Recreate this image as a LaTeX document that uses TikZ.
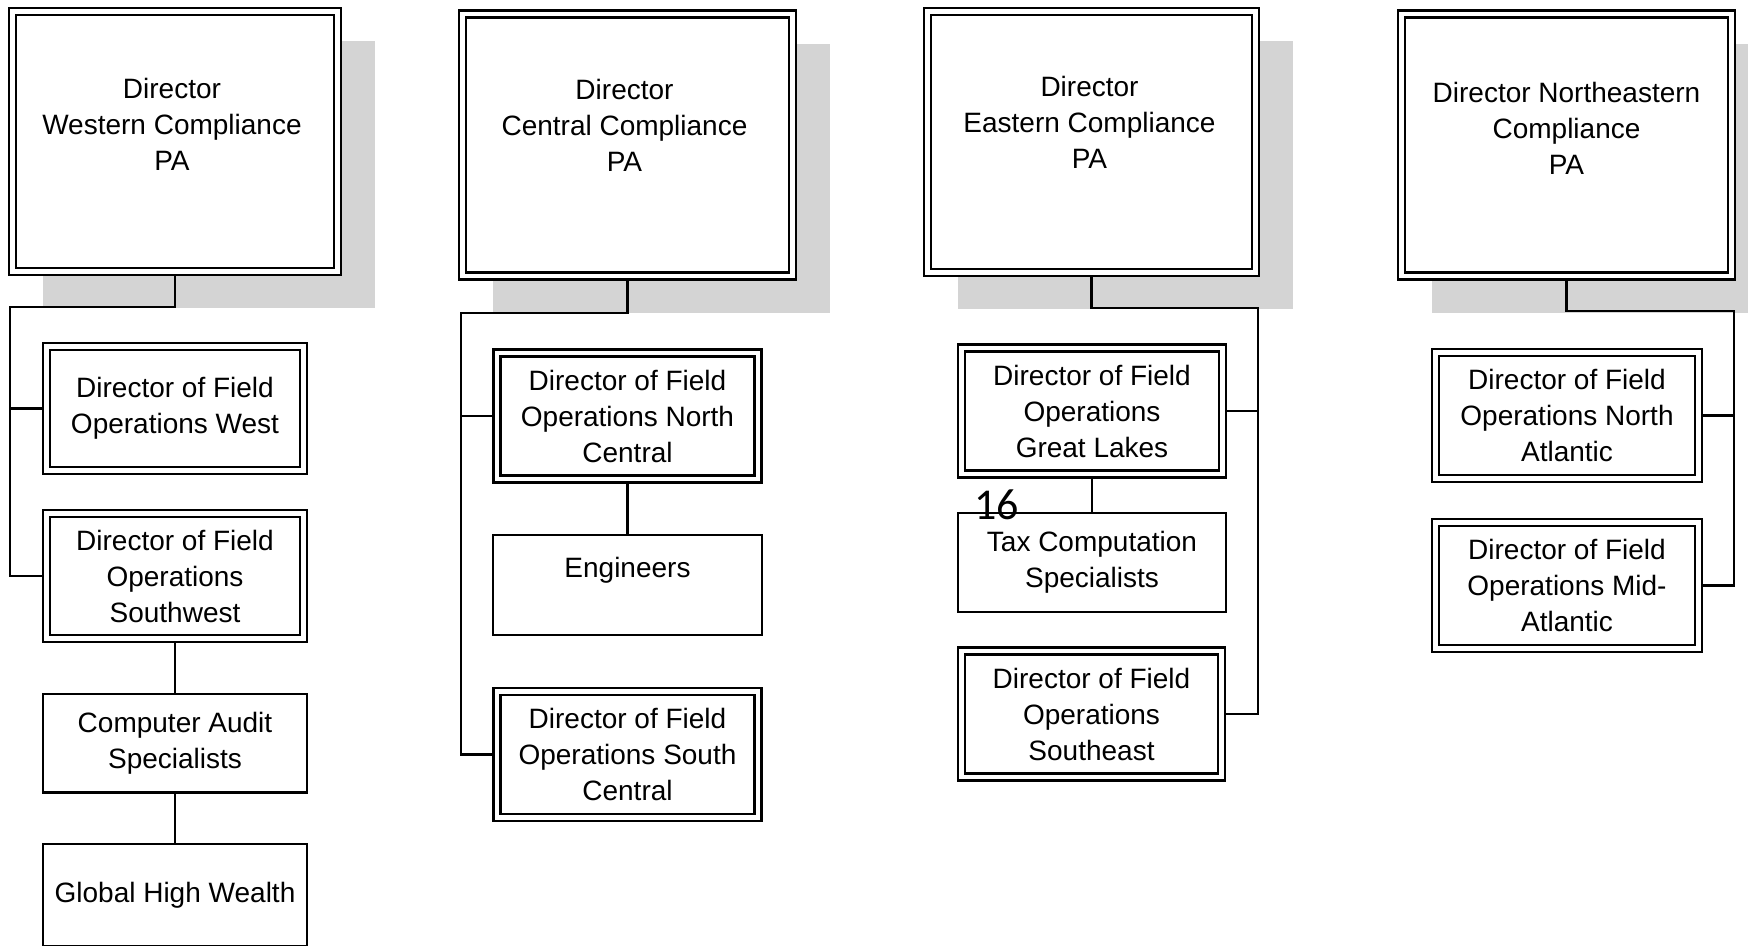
\documentclass[tikz,border=0pt]{standalone}
\usepackage{fontspec}
\setmainfont{Liberation Sans}
\newfontfamily\pagefont{Carlito}
\usetikzlibrary{backgrounds}
\definecolor{shadowgray}{RGB}{212,212,212}

\begin{document}
\begin{tikzpicture}[x=1pt,y=-1pt,font=\fontsize{28}{36}\selectfont]
 \tikzset{headbox/.style={draw,double,line width=2.3pt,double distance=4.7pt,fill=white,outer sep=3.5pt,inner sep=0pt,minimum width=330pt,minimum height=262pt},
          fobox/.style={draw,double,line width=2.3pt,double distance=4.7pt,fill=white,outer sep=3.5pt,inner sep=0pt,align=center,minimum width=261pt,minimum height=126pt},
          unitbox/.style={draw,line width=2.5pt,fill=white,inner sep=0pt,align=center,minimum width=267pt,minimum height=100pt},
          headtxt/.style={anchor=north,align=center,inner sep=0pt},
          link/.style={line width=2.9pt}}
 \useasboundingbox (0,0) rectangle (1748,945);

 % four compliance directors
 \node[headbox,minimum width=325pt,minimum height=260pt] (wtop) at (175,141.5) {};
 \node[headbox] (ctop) at (627.5,145) {};
 \node[headbox,minimum width=328pt,minimum height=261pt] (etop) at (1091.5,142) {};
 \node[headbox] (ntop) at (1566.5,145) {};
 \node[headtxt] (wtoptxt) at (172,78) {Director\\Western Compliance\\PA};
 \node[headtxt] (ctoptxt) at (624.5,79) {Director\\Central Compliance\\PA};
 \node[headtxt] (etoptxt) at (1089.5,76) {Director\\Eastern Compliance\\PA};
 \node[headtxt] (ntoptxt) at (1566.5,82) {Director Northeastern\\Compliance\\PA};

 % western
 \node[fobox,minimum width=257pt,minimum height=124pt] (wfw) at (175,408.5) {Director of Field\\Operations West};
 \node[fobox,minimum width=257pt,minimum height=125pt] (wsw) at (175,576) {Director of Field\\Operations\\Southwest};
 \node[unitbox,minimum width=264pt,minimum height=98.5pt] (wcas) at (175,743) {Computer Audit\\Specialists};
 \node[unitbox,minimum width=264pt,minimum height=102pt] (wghw) at (175,895) {Global High Wealth};

 % central
 \node[fobox] (cnc) at (627.5,416) {Director of Field\\Operations North\\Central};
 \node[unitbox,minimum width=269pt] (ceng) at (627.5,585) {Engineers\\[-6pt]\phantom{Engineers}};
 \node[fobox] (csc) at (627.5,754.5) {Director of Field\\Operations South\\Central};

 % eastern
 \node[fobox] (egl) at (1092,411) {Director of Field\\Operations\\Great Lakes};
 \node[unitbox,minimum width=268pt,minimum height=99pt] (etax) at (1092,562.5) {Tax Computation\\Specialists};
 \node[fobox,minimum width=260pt] (ese) at (1091.5,714) {Director of Field\\Operations\\Southeast};

 % northeastern
 \node[fobox,minimum width=263pt] (nna) at (1567,415.75) {Director of Field\\Operations North\\Atlantic};
 \node[fobox,minimum width=263pt] (nma) at (1567,585.75) {Director of Field\\Operations Mid-\\Atlantic};

 \node[anchor=base west,inner sep=0pt,font=\pagefont\fontsize{44}{44}\selectfont] (pgno) at (974,519) {16};

 % shadows behind the directors
 \begin{scope}[on background layer]
  \foreach \b in {wtop,ctop,etop,ntop}
   \fill[shadowgray] ([shift={(34,33)}]\b.north west) rectangle ([shift={(34,33)}]\b.south east);
 \end{scope}

 % reporting lines
 \coordinate (wbus) at (10,307);
 \coordinate (cbus) at (461,313);
 \coordinate (ebus) at (1258,308);
 \coordinate (nbus) at (1734,311);
 \draw[link] (wtop.south) |- (wbus) |- (wsw.west);
 \draw[link] (wfw.west) -- (wfw.west -| wbus);
 \draw[link] (wsw.south) -- (wcas.north);
 \draw[link] (wcas.south) -- (wghw.north);
 \draw[link] (ctop.south) |- (cbus) |- (csc.west);
 \draw[link] (cnc.west) -- (cnc.west -| cbus);
 \draw[link] (cnc.south) -- (ceng.north);
 \draw[link] (etop.south) |- (ebus) |- (ese.east);
 \draw[link] (egl.east) -- (egl.east -| ebus);
 \draw[link] (egl.south) -- (etax.north);
 \draw[link] (ntop.south) |- (nbus) |- (nma.east);
 \draw[link] (nna.east) -- (nna.east -| nbus);
\end{tikzpicture}
\end{document}
